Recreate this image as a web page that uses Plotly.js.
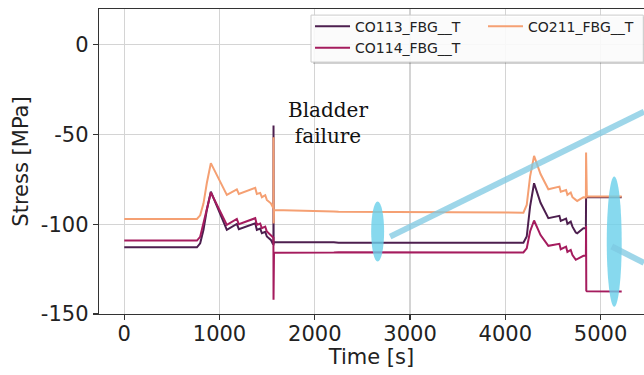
<!DOCTYPE html>
<html>
<head>
<meta charset="utf-8">
<script src="https://cdn.plot.ly/plotly-3.0.1.min.js"></script>
<style>html,body{margin:0;padding:0;background:#fff;}#chart{width:644px;height:375px;}</style>
</head>
<body>
<div id="chart"></div>
<script>
// Time [s]
const time = [0, 763, 797, 832, 867, 909, 1077, 1182, 1203, 1375, 1392, 1427, 1445, 1480, 1497, 1539, 1560, 1566, 1567, 1568, 1572, 2200, 2250, 4190, 4225, 4260, 4302, 4370, 4452, 4568, 4582, 4638, 4652, 4687, 4705, 4740, 4755, 4820, 4846, 4848, 4850, 4856, 5222];
// Stress [MPa]
const co113 = [-112.8, -112.8, -110.6, -103.1, -92, -81.8, -103.1, -99.8, -102.7, -99.4, -103.1, -102.4, -105, -104.2, -106.8, -108.7, -110.9, -111, -45, -111, -110, -110, -110.3, -110.3, -106.8, -90.1, -77.1, -88, -96.6, -95.3, -98.1, -96.8, -99.8, -98.5, -101.3, -104.6, -105, -102.2, -102.2, -85, -84.9, -84.9, -84.9];
const co114 = [-109.1, -109.1, -107, -99.6, -91.4, -82.3, -100.3, -97, -100, -96.6, -100.3, -99.6, -102.2, -101.3, -104, -105.9, -107.2, -107.5, -142, -116, -115.8, -115.7, -115.6, -115.7, -113.4, -104, -97.9, -106, -112, -110.9, -113.9, -112.5, -115.4, -114.3, -117.1, -119.8, -119.4, -117.6, -117.6, -101, -137, -137.3, -137.5];
const co211 = [-97, -97, -95, -88.3, -77, -65.9, -83.6, -80.5, -83.1, -79.7, -83.1, -82.5, -84.9, -83.8, -86.4, -88.3, -90.5, -91, -51.5, -99.5, -92, -92.8, -93, -93.5, -89.2, -73.4, -61.9, -72, -80.5, -79, -81.8, -80.9, -83.6, -82.3, -84.9, -86.4, -87, -84.9, -85, -60, -84.2, -84.5, -84.5];

const seriesNames = ['CO113_FBG__T', 'CO114_FBG__T', 'CO211_FBG__T'];
const xTickVals = [0, 1000, 2000, 3000, 4000, 5000];
const xTickLabels = ['0', '1000', '2000', '3000', '4000', '5000'];
const yTickVals = [-150, -100, -50, 0];
const yTickLabels = ['-150', '-100', '-50', '0'];
const annotationText = 'Bladder<br>failure';

const FONT = 'DejaVu Sans, sans-serif';
const TXT = '#222222';

const traces = [
  {x: time, y: co113, name: seriesNames[0], mode: 'lines', line: {color: '#4d1f4f', width: 2}, legend: 'legend'},
  {x: time, y: co114, name: seriesNames[1], mode: 'lines', line: {color: '#a51c5e', width: 2}, legend: 'legend2'},
  {x: time, y: co211, name: seriesNames[2], mode: 'lines', line: {color: '#f5a073', width: 2}, legend: 'legend3'}
];

const legendCommon = {
  xref: 'paper', yref: 'paper', xanchor: 'left', yanchor: 'top',
  bgcolor: 'rgba(0,0,0,0)', borderwidth: 0, itemwidth: 35,
  font: {family: FONT, size: 14, color: TXT}
};

const layout = {
  width: 644, height: 375,
  margin: {l: 99, r: 0, t: 9, b: 61},
  paper_bgcolor: '#ffffff', plot_bgcolor: '#ffffff',
  showlegend: true,
  legend: Object.assign({}, legendCommon, {x: 0.3872, y: 0.9950}),
  legend2: Object.assign({}, legendCommon, {x: 0.3872, y: 0.9240}),
  legend3: Object.assign({}, legendCommon, {x: 0.7046, y: 0.9950}),
  xaxis: {
    range: [-265, 5456], tickmode: 'array', tickvals: xTickVals, ticktext: xTickLabels,
    showgrid: true, gridcolor: '#d4d4d4', gridwidth: 1.2, zeroline: false,
    showline: true, linecolor: '#333333', linewidth: 1.3, mirror: true,
    ticks: 'outside', ticklen: 5, tickwidth: 1.2, tickcolor: '#333333', ticklabelstandoff: -5,
    tickfont: {family: FONT, size: 21, color: TXT},
    title: {text: 'Time [s]', font: {family: FONT, size: 21, color: TXT}, standoff: 2}
  },
  yaxis: {
    range: [-150, 20], tickmode: 'array', tickvals: yTickVals, ticktext: yTickLabels,
    showgrid: true, gridcolor: '#d4d4d4', gridwidth: 1.2, zeroline: false,
    showline: true, linecolor: '#333333', linewidth: 1.3, mirror: false,
    ticks: 'outside', ticklen: 5, tickwidth: 1.2, tickcolor: '#333333',
    tickfont: {family: FONT, size: 21, color: TXT},
    title: {text: 'Stress [MPa]', font: {family: FONT, size: 21, color: TXT}, standoff: 6}
  },
  annotations: [{
    x: 2141, y: -43.5, xref: 'x', yref: 'y', text: annotationText, showarrow: false,
    xanchor: 'center', yanchor: 'middle', align: 'center',
    font: {family: 'DejaVu Serif, serif', size: 20, color: '#111111'}
  }],
  shapes: [
    // legend frame shadow + frame
    {type: 'rect', xref: 'paper', yref: 'paper', x0: 0.3927, x1: 1.003, y0: 0.8195, y1: 0.9735,
     fillcolor: 'rgba(0,0,0,0.18)', line: {width: 0}, layer: 'above'},
    {type: 'rect', xref: 'paper', yref: 'paper', x0: 0.389, x1: 0.9987, y0: 0.826, y1: 0.980,
     fillcolor: 'rgba(255,255,255,0.9)', line: {color: '#cccccc', width: 1}, layer: 'above'},
    // highlight ellipses and connector lines
    {type: 'circle', xref: 'x', yref: 'y', x0: 2592, x1: 2728, y0: -120.8, y1: -87.3,
     fillcolor: 'rgba(105,208,234,0.8)', line: {width: 0}, layer: 'above'},
    {type: 'circle', xref: 'x', yref: 'y', x0: 5065, x1: 5222, y0: -145.9, y1: -73.4,
     fillcolor: 'rgba(105,208,234,0.8)', line: {width: 0}, layer: 'above'},
    {type: 'line', xref: 'x', yref: 'y', x0: 2791, y0: -106.9, x1: 5456, y1: -37.2,
     line: {color: 'rgba(125,200,225,0.75)', width: 6}, layer: 'above'},
    {type: 'line', xref: 'x', yref: 'y', x0: 5118, y0: -112.4, x1: 5456, y1: -121.5,
     line: {color: 'rgba(125,200,225,0.75)', width: 6}, layer: 'above'}
  ]
};

Plotly.newPlot('chart', traces, layout, {displayModeBar: false, staticPlot: true});
</script>
</body>
</html>
